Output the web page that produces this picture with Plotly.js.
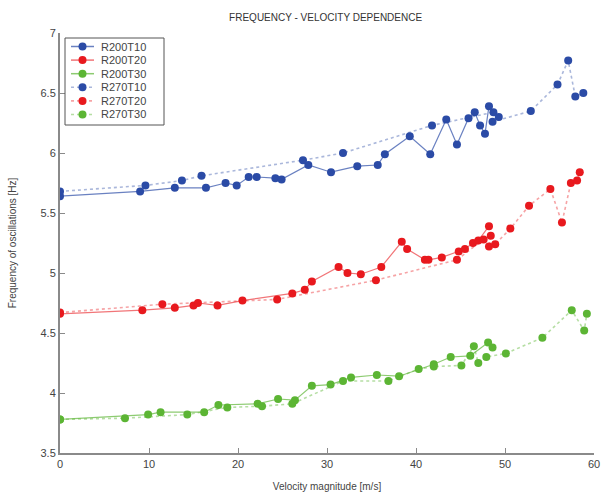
<!DOCTYPE html>
<html>
<head>
<meta charset="utf-8">
<script src="https://cdn.plot.ly/plotly-3.0.1.min.js"></script>
<style>html,body{margin:0;padding:0;background:#fff;}#chart{width:603px;height:493px;}</style>
</head>
<body>
<div id="chart"></div>
<script>
// R200T10 (solid, blue)
const r200t10_x = [0, 9.0, 12.9, 16.4, 18.6, 19.85, 21.2, 22.1, 24.2, 24.9, 27.9, 30.45, 33.4, 35.7, 36.5, 39.3, 41.6, 43.4, 44.6, 45.9, 46.6, 47.2, 47.75, 48.2];
const r200t10_y = [5.64, 5.68, 5.71, 5.71, 5.75, 5.73, 5.80, 5.80, 5.79, 5.78, 5.90, 5.84, 5.89, 5.90, 5.99, 6.14, 5.99, 6.28, 6.07, 6.29, 6.34, 6.23, 6.16, 6.39];
// R200T20 (solid, red)
const r200t20_x = [0, 9.25, 12.9, 15.0, 15.5, 17.7, 20.5, 26.1, 27.5, 28.3, 31.3, 32.3, 33.8, 36.1, 38.4, 39.0, 41.0, 41.4, 42.9, 44.8, 45.5, 46.4, 47.0, 48.2];
const r200t20_y = [4.66, 4.69, 4.71, 4.73, 4.75, 4.73, 4.77, 4.83, 4.86, 4.93, 5.05, 5.00, 4.99, 5.05, 5.26, 5.20, 5.11, 5.11, 5.13, 5.18, 5.20, 5.25, 5.27, 5.39];
// R200T30 (solid, green)
const r200t30_x = [0, 9.9, 11.3, 16.2, 17.8, 22.2, 24.5, 26.4, 28.3, 30.4, 32.7, 35.6, 38.1, 42.0, 43.9, 46.1, 48.1, 48.6];
const r200t30_y = [3.78, 3.82, 3.84, 3.84, 3.90, 3.91, 3.95, 3.94, 4.06, 4.07, 4.13, 4.15, 4.14, 4.24, 4.30, 4.31, 4.42, 4.38];
// R270T10 (dotted, blue)
const r270t10_x = [0, 9.6, 13.7, 15.9, 27.3, 31.8, 41.8, 48.7, 49.3, 48.6, 52.9, 55.9, 57.1, 57.9, 58.8];
const r270t10_y = [5.68, 5.73, 5.77, 5.81, 5.94, 6.00, 6.23, 6.34, 6.30, 6.26, 6.35, 6.57, 6.77, 6.47, 6.50];
// R270T20 (dotted, red)
const r270t20_x = [0, 11.5, 24.4, 35.5, 44.6, 47.6, 48.4, 48.2, 48.9, 50.6, 52.7, 55.1, 56.4, 57.4, 58.1, 58.4];
const r270t20_y = [4.67, 4.74, 4.78, 4.94, 5.11, 5.28, 5.31, 5.22, 5.24, 5.37, 5.56, 5.70, 5.42, 5.75, 5.77, 5.84];
// R270T30 (dotted, green)
const r270t30_x = [0, 7.3, 14.3, 18.8, 22.7, 26.1, 31.8, 36.9, 40.3, 42.0, 45.1, 46.5, 47.0, 47.9, 50.1, 54.2, 57.5, 58.9, 59.2];
const r270t30_y = [3.78, 3.79, 3.82, 3.88, 3.89, 3.91, 4.10, 4.10, 4.20, 4.22, 4.23, 4.39, 4.25, 4.30, 4.33, 4.46, 4.69, 4.52, 4.66];

const names = ['R200T10','R200T20','R200T30','R270T10','R270T20','R270T30'];
const xs = [r200t10_x, r200t20_x, r200t30_x, r270t10_x, r270t20_x, r270t30_x];
const ys = [r200t10_y, r200t20_y, r200t30_y, r270t10_y, r270t20_y, r270t30_y];
const colors = ['#2b4ba6', '#e8191e', '#5cb534', '#2b4ba6', '#e8191e', '#5cb534'];
const lineColors = ['rgba(43,75,166,0.7)', 'rgba(232,25,30,0.6)', 'rgba(92,181,52,0.7)', 'rgba(43,75,166,0.4)', 'rgba(232,25,30,0.4)', 'rgba(92,181,52,0.45)'];
const dashes = ['solid','solid','solid','dot','dot','dot'];

const traces = names.map((n, i) => ({
  x: xs[i], y: ys[i], name: n, type: 'scatter', mode: 'lines+markers',
  line: {color: lineColors[i], width: i < 3 ? 1.2 : 1.6, dash: dashes[i]},
  marker: {color: colors[i], size: 8}
}));

// Compact legend (matching the reference's tight spacing), in paper coordinates
const plotW = 534, plotH = 420;          // plot area size in px
const px2x = p => (p - 60) / plotW;      // page px -> paper x
const px2y = p => (453 - p) / plotH;     // page px -> paper y
const shapes = [{type: 'rect', xref: 'paper', yref: 'paper', x0: px2x(65), x1: px2x(164), y0: px2y(125), y1: px2y(38),
  line: {color: '#555', width: 1}, fillcolor: '#fff', layer: 'above'}];
const annotations = [];
names.forEach((n, i) => {
  const yy = px2y(46.5 + i * 13.6);
  shapes.push({type: 'line', xref: 'paper', yref: 'paper', x0: px2x(71), x1: px2x(94), y0: yy, y1: yy,
    line: {color: lineColors[i], width: i < 3 ? 1.5 : 1.6, dash: dashes[i]}, layer: 'above'});
  shapes.push({type: 'circle', xref: 'paper', yref: 'paper', xsizemode: 'pixel', ysizemode: 'pixel',
    xanchor: px2x(82.5), yanchor: yy, x0: -4, x1: 4, y0: -4, y1: 4,
    fillcolor: colors[i], line: {color: colors[i], width: 0}, layer: 'above'});
  annotations.push({xref: 'paper', yref: 'paper', x: px2x(99), y: yy, xanchor: 'left', yanchor: 'middle',
    text: n, showarrow: false, font: {size: 11, color: '#444'}});
});

const layout = {
  width: 603, height: 493,
  margin: {l: 60, r: 9, t: 33, b: 40},
  paper_bgcolor: '#fff', plot_bgcolor: '#fff',
  font: {family: 'Liberation Sans, Arial, sans-serif', size: 11, color: '#333'},
  title: {text: 'FREQUENCY - VELOCITY DEPENDENCE', x: 0.54, xanchor: 'center', y: 0.965, yanchor: 'middle', font: {size: 10, color: '#333'}},
  xaxis: {
    range: [0, 60], tickvals: [0,10,20,30,40,50,60], showgrid: false, zeroline: false,
    showline: true, linecolor: '#8a8a8a', linewidth: 2, ticks: 'inside', ticklen: 5, tickcolor: '#8a8a8a', tickwidth: 1,
    tickfont: {size: 11, color: '#444'},
    title: {text: 'Velocity magnitude [m/s]', font: {size: 10, color: '#444'}, standoff: 14}
  },
  yaxis: {
    range: [3.5, 7], tickvals: [3.5,4,4.5,5,5.5,6,6.5,7], ticktext: ['3.5','4','4.5','5','5.5','6','6.5','7'],
    showgrid: false, zeroline: false,
    showline: true, linecolor: '#8a8a8a', linewidth: 2, ticks: 'inside', ticklen: 5, tickcolor: '#8a8a8a', tickwidth: 1,
    tickfont: {size: 11, color: '#444'},
    title: {text: 'Frequency of oscillations [Hz]', font: {size: 10, color: '#444'}, standoff: 22}
  },
  showlegend: false,
  shapes: shapes,
  annotations: annotations
};

Plotly.newPlot('chart', traces, layout, {displayModeBar: false, staticPlot: true});
</script>
</body>
</html>
